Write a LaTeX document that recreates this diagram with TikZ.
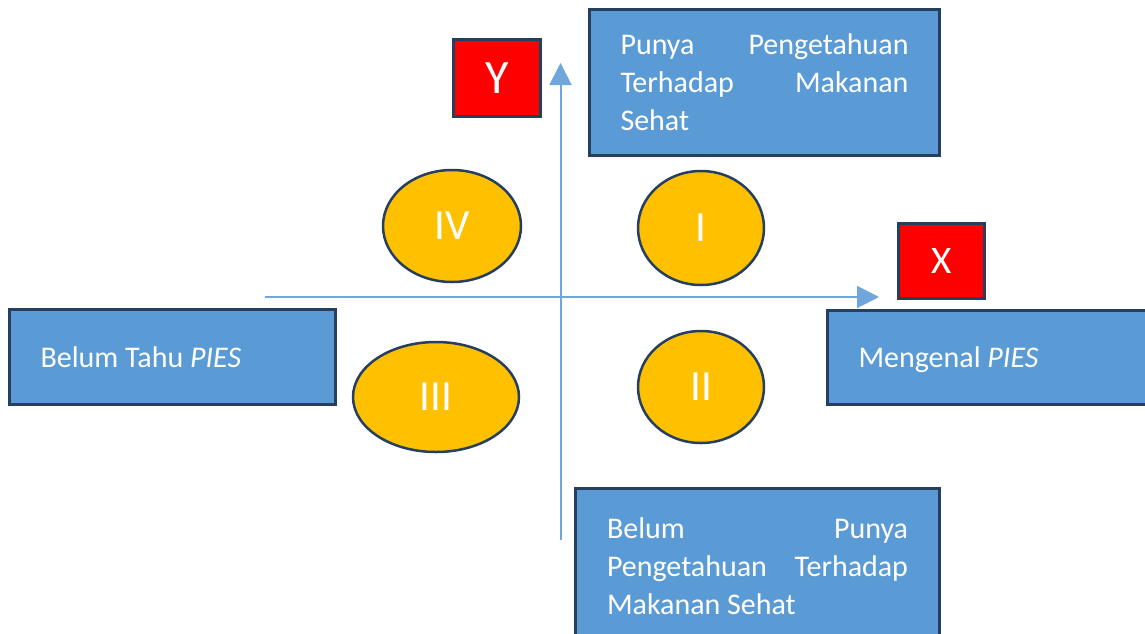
\documentclass[tikz,border=0pt]{standalone}
\usepackage{fontspec}
\setmainfont{Carlito}
\usetikzlibrary{shapes.geometric,arrows.meta}
\definecolor{boxblue}{HTML}{5B9BD5}
\definecolor{edgenavy}{HTML}{263F5E}
\definecolor{axisblue}{HTML}{6FA6DC}
\definecolor{quadgold}{HTML}{FFC000}
\definecolor{tagred}{HTML}{FF0000}
% gap that pushes the words of a justified line apart
\newcommand{\spreadgap}{\hskip 0pt plus 1fill\relax}
\begin{document}
\begin{tikzpicture}[x=1pt,y=-1pt,
  infobox/.style={draw=edgenavy,line width=3pt,fill=boxblue,text=white,
    anchor=north west,inner xsep=0pt,inner ysep=0pt,align=flush left,
    font=\fontsize{30}{38}\selectfont},
  tagbox/.style={draw=edgenavy,line width=3pt,fill=tagred,text=white,
    anchor=north west,inner sep=0pt},
  quad/.style={ellipse,draw=edgenavy,line width=2.5pt,fill=quadgold,text=white,
    inner sep=0pt,font=\fontsize{43}{43}\selectfont},
  axis/.style={draw=axisblue,line width=2pt,-{Triangle[length=22pt,width=22pt]}}]
\useasboundingbox (0,0) rectangle (1145,633);
\begin{scope}
\clip (0,0) rectangle (1145,633);
% axes
\coordinate (xl) at (265,297);
\coordinate (xr) at (879,297);
\coordinate (yb) at (560.5,540);
\coordinate (yt) at (560.5,63);
\draw[axis] (xl) -- (xr);
\draw[axis] (yb) -- (yt);
% axis tags
\node[tagbox,minimum width=87pt,minimum height=77pt,font=\fontsize{48}{48}\selectfont] (ytag) at (452,38) {Y};
\node[tagbox,minimum width=86pt,minimum height=75pt,font=\fontsize{39}{39}\selectfont] (xtag) at (897,222) {X};
% description boxes
\node[infobox,minimum width=350pt,minimum height=146pt,text width=288pt] (top) at (588,8)
  {Punya\spreadgap Pengetahuan\\Terhadap\spreadgap Makanan\\Sehat};
\node[infobox,minimum width=364pt,minimum height=156pt,text width=301pt] (bottom) at (574,487)
  {Belum\spreadgap Punya\\Pengetahuan\spreadgap Terhadap\\Makanan Sehat};
\node[infobox,minimum width=326pt,minimum height=95pt,text width=264pt,
  text height=20pt,text depth=0pt] (left) at (8,308)
  {Belum Tahu \textit{PIES}};
\node[infobox,minimum width=330pt,minimum height=94pt,text width=268pt,
  text height=20pt,text depth=0pt] (right) at (826,309)
  {Mengenal \textit{PIES}};
% quadrants
\node[quad,minimum width=138pt,minimum height=112pt] (q4) at (452,226) {IV};
\node[quad,minimum width=126pt,minimum height=114pt] (q1) at (701,228) {I};
\node[quad,minimum width=166pt,minimum height=110pt] (q3) at (436,397) {III};
\node[quad,minimum width=126pt,minimum height=112pt] (q2) at (701,387) {II};
\end{scope}
\end{tikzpicture}
\end{document}
